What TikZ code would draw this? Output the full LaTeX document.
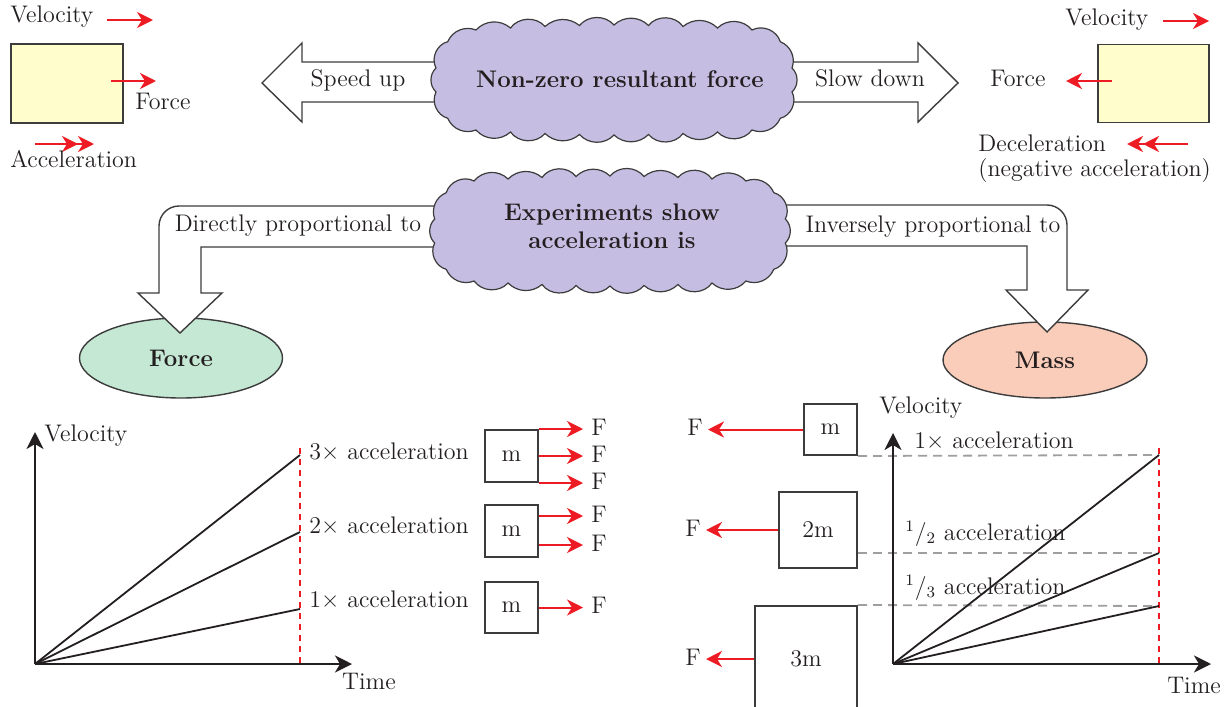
\documentclass[tikz,border=0pt]{standalone}
\usepackage{fontspec}
\usetikzlibrary{arrows.meta,shapes.geometric}
\definecolor{redA}{RGB}{237,28,36}
\definecolor{yel}{RGB}{255,253,204}
\definecolor{lav}{RGB}{197,190,226}
\definecolor{grn}{RGB}{197,232,212}
\definecolor{sal}{RGB}{250,204,186}
\definecolor{edge}{RGB}{60,60,60}
\definecolor{ink}{RGB}{35,31,32}
\tikzset{
  txt/.style={font=\fontsize{12}{14}\selectfont, text=ink, inner sep=0pt, text height=8.5pt, text depth=2.5pt},
  btxt/.style={font=\fontsize{12}{14}\selectfont\bfseries, text=ink},
  rarrow/.style={draw=redA, line width=1pt, -{Stealth[length=8pt,width=8pt,inset=2.5pt]}},
  rdouble/.style={draw=redA, line width=1pt, -{Stealth[length=8pt,width=8pt,inset=2.5pt]Stealth[length=8pt,width=8pt,inset=2.5pt]}},
  yelbox/.style={draw=edge, fill=yel, line width=0.8pt, inner sep=0pt},
  mbox/.style={draw=edge, line width=1pt, fill=white, inner sep=0pt, font=\fontsize{12}{14}\selectfont, text=ink},
  blockarrow/.style={draw=edge, fill=white, line width=0.7pt, line join=miter},
  cloudpath/.style={draw=edge, fill=lav, line width=0.6pt},
  cloudtext/.style={btxt, align=center, inner sep=0pt},
  ellnode/.style={ellipse, draw=edge, line width=0.7pt, inner sep=0pt, btxt},
  axisarrow/.style={draw=ink, line width=1.2pt, -{Stealth[length=8.5pt,width=8.5pt,inset=2.5pt]}},
  gline/.style={draw=ink, line width=0.9pt},
  rdash/.style={draw=redA, line width=0.9pt, dash pattern=on 3pt off 2.5pt},
  gdash/.style={draw=gray!75, line width=0.9pt, dash pattern=on 4.5pt off 3pt}
}
\def\cloudpts{-103.5/-52/44,-69/-53.5/52,-34.5/-54.5/40,0/-55/50,34.5/-54.5/44,69/-53.5/54,103.5/-52/42,138/-50/48,
166.3/-38.3/50,178/-12/44,178/12/46,166.3/38.3/52,138/50/44,
103.5/52/50,69/53.5/42,34.5/54.5/52,0/55/44,-34.5/54.5/48,-69/53.5/42,-103.5/52/52,-138/50/46,
-166.3/38.3/44,-178/12/50,-178/-12/46,-166.3/-38.3/52,-138/-50/44}
\begin{document}
\begin{tikzpicture}[x=0.5pt,y=-0.5pt]
\useasboundingbox (0,0) rectangle (1224,706);
\fill[white] (0,0) rectangle (1224,706);

% ---------- top left: speeding up ----------
\node[txt, anchor=west] (vel1) at (10,17) {Velocity};
\coordinate (va1) at (107,20); \coordinate (vb1) at (153,20);
\draw[rarrow] (va1) -- (vb1);
\node[yelbox, minimum width=56pt, minimum height=39.5pt] (box1) at (67,83.5) {};
\coordinate (fa1) at (111,81); \coordinate (fb1) at (156,81);
\draw[rarrow] (fa1) -- (fb1);
\node[txt, anchor=west] (force1) at (135,104) {Force};
\coordinate (aa1) at (35,144); \coordinate (ab1) at (94,144);
\draw[rdouble] (aa1) -- (ab1);
\node[txt, anchor=west] (acc1) at (10,161) {Acceleration};

% ---------- top right: slowing down ----------
\node[txt, anchor=west] (vel2) at (1065,20) {Velocity};
\coordinate (va2) at (1163,21); \coordinate (vb2) at (1209,21);
\draw[rarrow] (va2) -- (vb2);
\node[yelbox, minimum width=55.5pt, minimum height=39pt] (box2) at (1153.5,83.5) {};
\coordinate (fa2) at (1112,81); \coordinate (fb2) at (1066,81);
\draw[rarrow] (fa2) -- (fb2);
\node[txt] (force2) at (1018,81) {Force};
\coordinate (da2) at (1188,144); \coordinate (db2) at (1127,144);
\draw[rdouble] (da2) -- (db2);
\node[txt, anchor=west] (dec2) at (978,145) {Deceleration};
\node[txt, anchor=west] (neg2) at (978,170) {(negative acceleration)};

% ---------- ellipses ----------
\node[ellnode, fill=grn, minimum width=101.5pt, minimum height=40pt] (forceE) at (181,358) {Force};
\node[ellnode, fill=sal, minimum width=102pt, minimum height=38pt] (massE) at (1045,360) {Mass};

% ---------- block arrows ----------
\draw[blockarrow] (445,62) -- (302,62) -- (302,43) -- (262,83) -- (302,122) -- (302,102) -- (445,102) -- cycle;
\draw[blockarrow] (785,62) -- (918,62) -- (918,43) -- (958,83) -- (918,122) -- (918,102) -- (785,102) -- cycle;
\draw[blockarrow] (445,206) -- (179,206) .. controls (168,206) and (159,215) .. (159,226) -- (159,293) -- (138,293) -- (180,333) -- (222,293) -- (201,293) -- (201,247) -- (445,247) -- cycle;
\draw[blockarrow] (775,205) -- (1047,205) .. controls (1058,205) and (1067,214) .. (1067,225) -- (1067,290) -- (1088,290) -- (1047,332) -- (1006,290) -- (1027,290) -- (1027,246) -- (775,246) -- cycle;

% ---------- clouds ----------
\begin{scope}[shift={(614,80)}]
\draw[cloudpath] (-138,-50) \foreach \cx/\cy/\cb in \cloudpts { to[bend left=\cb] (\cx,\cy) } -- cycle;
\end{scope}
\begin{scope}[shift={(610,231)}, xscale=-0.985, yscale=1.0]
\draw[cloudpath] (-138,-50) \foreach \cx/\cy/\cb in \cloudpts { to[bend left=\cb] (\cx,\cy) } -- cycle;
\end{scope}
\node[cloudtext] (cloud1) at (620,79) {Non-zero resultant force};
\node[cloudtext] (cloud2) at (612,226) {Experiments show\\acceleration is};

\node[txt] (speedup) at (358,81) {Speed up};
\node[txt] (slowdown) at (870,81) {Slow down};
\node[txt] (direct) at (298,225) {Directly proportional to};
\node[txt] (inverse) at (933,226) {Inversely proportional to};

% ---------- bottom left graph ----------
\coordinate (o1) at (35,664);
\coordinate (y1) at (35,432);
\coordinate (x1) at (352,664);
\draw[axisarrow] (o1) -- (y1);
\draw[axisarrow] (o1) -- (x1);
\node[txt, anchor=west] (vlab1) at (44,435) {Velocity};
\node[txt] (tlab1) at (369,683) {Time};
\coordinate (rt1) at (300,448); \coordinate (rb1) at (300,664);
\draw[rdash] (rt1) -- (rb1);
\coordinate (l13) at (300,455); \coordinate (l12) at (300,532); \coordinate (l11) at (300,609);
\draw[gline] (o1) -- (l13);
\draw[gline] (o1) -- (l12);
\draw[gline] (o1) -- (l11);
\node[txt, anchor=west] (a3) at (309,453) {3× acceleration};
\node[txt, anchor=west] (a2) at (309,527) {2× acceleration};
\node[txt, anchor=west] (a1) at (309,601) {1× acceleration};
\node[mbox, minimum width=26.5pt, minimum height=26pt] (m1) at (511.5,456) {m};
\node[mbox, minimum width=26.5pt, minimum height=26pt] (m2) at (511.5,531) {m};
\node[mbox, minimum width=26.5pt, minimum height=25.5pt] (m3) at (511.5,607.5) {m};
\draw[rarrow] (m1.north east) -- ++(44,0) coordinate (f1a);
\draw[rarrow] (m1.east) -- ++(44,0) coordinate (f1b);
\draw[rarrow] (m1.south east) -- ++(44,0) coordinate (f1c);
\draw[rarrow] ([yshift=7.5pt]m2.east) -- ++(44,0) coordinate (f2a);
\draw[rarrow] ([yshift=-7pt]m2.east) -- ++(44,0) coordinate (f2b);
\draw[rarrow] (m3.east) -- ++(44,0) coordinate (f3a);
\node[txt, anchor=west] at ([xshift=4pt]f1a) {F};
\node[txt, anchor=west] at ([xshift=4pt]f1b) {F};
\node[txt, anchor=west] at ([xshift=4pt]f1c) {F};
\node[txt, anchor=west] at ([xshift=4pt]f2a) {F};
\node[txt, anchor=west] at ([xshift=4pt]f2b) {F};
\node[txt, anchor=west] at ([xshift=4pt]f3a) {F};

% ---------- bottom right graph ----------
\coordinate (o2) at (893,664);
\coordinate (y2) at (893,433);
\coordinate (x2) at (1211,664);
\coordinate (e1) at (1159,455); \coordinate (e2) at (1159,553); \coordinate (e3) at (1159,606);
\node[mbox, minimum width=26.5pt, minimum height=25.5pt] (n1) at (830.5,429.5) {m};
\node[mbox, minimum width=39pt, minimum height=38pt] (n2) at (818,530) {2m};
\node[mbox, minimum width=51pt, minimum height=53pt] (n3) at (806,659) {3m};
\draw[gdash] (n1.south east) -- (e1);
\draw[gdash] (n2.east |- e2) -- (e2);
\draw[gdash] (n3.north east) -- (e3);
\draw[axisarrow] (o2) -- (y2);
\draw[axisarrow] (o2) -- (x2);
\node[txt, anchor=west] (vlab2) at (879,407) {Velocity};
\node[txt] (tlab2) at (1194,687) {Time};
\coordinate (rt2) at (1159,448); \coordinate (rb2) at (1159,664);
\draw[rdash] (rt2) -- (rb2);
\draw[gline] (o2) -- (e1);
\draw[gline] (o2) -- (e2);
\draw[gline] (o2) -- (e3);
\node[txt, anchor=west] (b1) at (914,442) {1× acceleration};
\node[txt, anchor=west] (b2) at (905,534) {\textsuperscript{1}/\textsubscript{2} acceleration};
\node[txt, anchor=west] (b3) at (905,588) {\textsuperscript{1}/\textsubscript{3} acceleration};
\draw[rarrow] (n1.west) -- ++(-95,0) coordinate (g1);
\draw[rarrow] (n2.west) -- ++(-72,0) coordinate (g2);
\draw[rarrow] (n3.west) -- ++(-48,0) coordinate (g3);
\node[txt, anchor=east] at ([xshift=-2.5pt]g1) {F};
\node[txt, anchor=east] at ([xshift=-2.5pt]g2) {F};
\node[txt, anchor=east] at ([xshift=-2.5pt]g3) {F};
\end{tikzpicture}
\end{document}
